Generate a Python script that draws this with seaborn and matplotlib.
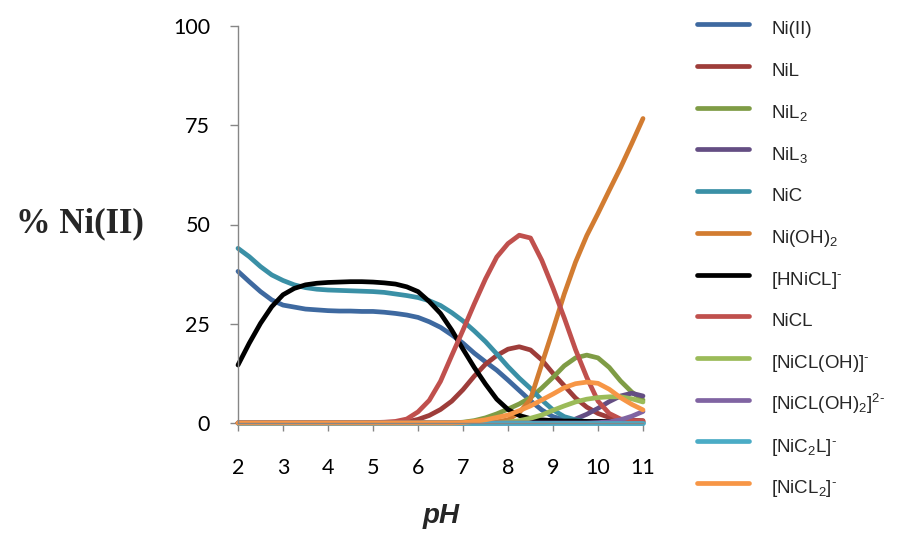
import matplotlib
matplotlib.use("Agg")
import matplotlib.pyplot as plt
from matplotlib.lines import Line2D
import pandas as pd
import seaborn as sns

# pH grid of the speciation calculation
ph = [2.0, 2.25, 2.5, 2.75, 3.0, 3.25, 3.5, 3.75, 4.0, 4.25, 4.5, 4.75,
      5.0, 5.25, 5.5, 5.75, 6.0, 6.25, 6.5, 6.75, 7.0, 7.25, 7.5, 7.75,
      8.0, 8.25, 8.5, 8.75, 9.0, 9.25, 9.5, 9.75, 10.0, 10.25, 10.5, 10.75, 11.0]

# % of total Ni(II) present as each species
ni_free = [38.2, 35.6, 33.1, 31.0, 29.7, 29.2, 28.7, 28.5, 28.3, 28.2, 28.2, 28.1,
           28.1, 27.9, 27.6, 27.2, 26.6, 25.5, 24.1, 22.2, 20.1, 17.6, 15.4, 13.3,
           10.8, 8.2, 5.6, 3.3, 1.6, 0.8, 0.3, 0.1, 0.0, 0.0, 0.0, 0.0, 0.0]
nil = [0.0, 0.0, 0.0, 0.0, 0.0, 0.0, 0.0, 0.0, 0.0, 0.0, 0.0, 0.0,
       0.0, 0.0, 0.1, 0.3, 0.9, 1.9, 3.4, 5.5, 8.4, 11.8, 14.8, 17.0,
       18.6, 19.2, 18.4, 15.9, 12.5, 9.4, 6.3, 4.0, 2.4, 1.4, 0.9, 0.7, 0.6]
nil2 = [0.0, 0.0, 0.0, 0.0, 0.0, 0.0, 0.0, 0.0, 0.0, 0.0, 0.0, 0.0,
        0.0, 0.0, 0.0, 0.0, 0.0, 0.0, 0.0, 0.0, 0.2, 0.6, 1.3, 2.3,
        3.5, 4.8, 6.4, 8.8, 11.5, 14.4, 16.4, 17.1, 16.4, 14.0, 10.6, 7.8, 5.8]
nil3 = [0.0, 0.0, 0.0, 0.0, 0.0, 0.0, 0.0, 0.0, 0.0, 0.0, 0.0, 0.0,
        0.0, 0.0, 0.0, 0.0, 0.0, 0.0, 0.0, 0.0, 0.0, 0.0, 0.0, 0.0,
        0.0, 0.0, 0.0, 0.0, 0.1, 0.3, 1.0, 2.2, 3.7, 5.4, 6.8, 7.5, 6.8]
nic = [44.0, 41.9, 39.4, 37.3, 35.9, 34.8, 34.1, 33.7, 33.5, 33.4, 33.3, 33.2,
       33.1, 32.9, 32.5, 32.1, 31.6, 30.8, 29.6, 27.8, 25.7, 23.2, 20.5, 17.4,
       14.2, 11.3, 8.7, 5.8, 3.3, 1.6, 0.8, 0.3, 0.1, 0.0, 0.0, 0.0, 0.0]
ni_oh2 = [0.0, 0.0, 0.0, 0.0, 0.0, 0.0, 0.0, 0.0, 0.0, 0.0, 0.0, 0.0,
          0.0, 0.0, 0.0, 0.0, 0.0, 0.0, 0.0, 0.0, 0.0, 0.0, 0.1, 0.3,
          0.8, 2.6, 6.0, 14.8, 23.5, 32.5, 40.5, 47.2, 52.8, 58.6, 64.3, 70.4, 76.7]
hnicl = [14.6, 20.1, 25.1, 29.3, 32.3, 33.9, 34.8, 35.2, 35.4, 35.5, 35.6, 35.6,
         35.5, 35.3, 35.0, 34.3, 33.1, 30.6, 27.6, 23.4, 18.6, 14.0, 9.8, 6.0,
         3.4, 1.9, 1.1, 0.8, 0.6, 0.5, 0.5, 0.4, 0.4, 0.4, 0.3, 0.3, 0.3]
nicl = [0.0, 0.0, 0.0, 0.0, 0.0, 0.0, 0.0, 0.0, 0.0, 0.0, 0.0, 0.0,
        0.1, 0.2, 0.4, 1.0, 2.8, 5.7, 10.5, 17.0, 23.4, 30.0, 36.3, 41.8,
        45.2, 47.3, 46.6, 41.0, 34.0, 26.5, 18.5, 11.5, 5.5, 2.4, 1.0, 0.6, 0.5]
nicl_oh = [0.0, 0.0, 0.0, 0.0, 0.0, 0.0, 0.0, 0.0, 0.0, 0.0, 0.0, 0.0,
           0.0, 0.0, 0.0, 0.0, 0.0, 0.0, 0.0, 0.0, 0.0, 0.0, 0.0, 0.0,
           0.2, 0.6, 1.2, 2.0, 3.2, 4.3, 5.3, 6.0, 6.4, 6.6, 6.6, 6.1, 5.3]
nicl_oh2 = [0.0, 0.0, 0.0, 0.0, 0.0, 0.0, 0.0, 0.0, 0.0, 0.0, 0.0, 0.0,
            0.0, 0.0, 0.0, 0.0, 0.0, 0.0, 0.0, 0.0, 0.0, 0.0, 0.0, 0.0,
            0.0, 0.0, 0.0, 0.0, 0.0, 0.0, 0.0, 0.0, 0.1, 0.3, 0.8, 1.7, 2.9]
nic2l = [0.0] * 37
nicl2 = [0.0, 0.0, 0.0, 0.0, 0.0, 0.0, 0.0, 0.0, 0.0, 0.0, 0.0, 0.0,
         0.0, 0.0, 0.0, 0.0, 0.0, 0.0, 0.0, 0.0, 0.1, 0.4, 0.8, 1.4,
         2.0, 3.1, 4.3, 5.8, 7.3, 8.9, 9.9, 10.3, 10.0, 8.5, 6.4, 4.7, 3.3]

species = ["Ni(II)", "NiL", "NiL2", "NiL3", "NiC", "Ni(OH)2", "[HNiCL]-",
           "NiCL", "[NiCL(OH)]-", "[NiCL(OH)2]2-", "[NiC2L]-", "[NiCL2]-"]
labels = ["Ni(II)", "NiL", r"NiL$_\mathrm{2}$", r"NiL$_\mathrm{3}$", "NiC",
          r"Ni(OH)$_\mathrm{2}$", r"[HNiCL]$^\text{-}$", "NiCL",
          r"[NiCL(OH)]$^\text{-}$", r"[NiCL(OH)$_\mathrm{2}$]$^\text{2-}$",
          r"[NiC$_\mathrm{2}$L]$^\text{-}$", r"[NiCL$_\mathrm{2}$]$^\text{-}$"]
colors = ["#3E69A0", "#9E3D3A", "#7F9C45", "#644E83", "#3A90A6", "#D27C31",
          "#000000", "#C0504D", "#9BBB59", "#8064A2", "#4BACC6", "#F79646"]
series = [ni_free, nil, nil2, nil3, nic, ni_oh2, hnicl,
          nicl, nicl_oh, nicl_oh2, nic2l, nicl2]

frames = [pd.DataFrame({"pH": ph, "pct": vals, "species": name})
          for name, vals in zip(species, series)]
df = pd.concat(frames, ignore_index=True)

sns.set_theme(style="white")
plt.rcParams["font.family"] = ["Lato", "DejaVu Sans"]
plt.rcParams["mathtext.fontset"] = "custom"
plt.rcParams["mathtext.rm"] = "Liberation Sans"
plt.rcParams["mathtext.it"] = "Liberation Sans:italic"
plt.rcParams["lines.solid_capstyle"] = "round"
plt.rcParams["lines.solid_joinstyle"] = "round"

fig = plt.figure(figsize=(9.01, 5.35), dpi=100)
ax = fig.add_axes([238 / 901, 1 - 423 / 535, 405 / 901, 397 / 535])

line_w = 3.4
palette = dict(zip(species, colors))
sns.lineplot(data=df, x="pH", y="pct", hue="species", hue_order=species,
             palette=palette, estimator=None, sort=False, lw=line_w,
             legend=False, ax=ax, clip_on=False)

ax.set_xlim(2, 11)
ax.set_ylim(0, 100)
ax.set_xticks(range(2, 12))
ax.set_yticks([0, 25, 50, 75, 100])
ax.set_xlabel("")
ax.set_ylabel("")

grey = "#868686"
for side in ["top", "right"]:
    ax.spines[side].set_visible(False)
for side in ["left", "bottom"]:
    ax.spines[side].set_color(grey)
    ax.spines[side].set_linewidth(1.0)
ax.tick_params(axis="both", which="major", direction="out", length=6,
               width=1.0, color=grey, labelsize=15.5, labelcolor="black",
               left=True, bottom=True)
ax.tick_params(axis="x", pad=19)
ax.tick_params(axis="y", pad=14)

fig.text(80 / 901, 1 - 224 / 535, "% Ni(II)", family="Liberation Serif",
         weight="bold", size=25, ha="center", va="center")
fig.text(441 / 901, 1 - 516 / 535, "pH", family="Liberation Sans",
         weight="bold", style="italic", size=20, ha="center", va="center")

fs = 13.5
handles = [Line2D([], [], color=c, lw=line_w, solid_capstyle="round") for c in colors]
fig.legend(handles, labels, loc="upper left",
           bbox_to_anchor=(697 / 901, 1 - 14 / 535),
           frameon=False, borderpad=0, borderaxespad=0,
           prop={"family": "Liberation Sans", "size": fs},
           handlelength=2.75, handleheight=2.0, labelspacing=0.68,
           handletextpad=1.2)

fig.savefig("out.png", dpi=100)
